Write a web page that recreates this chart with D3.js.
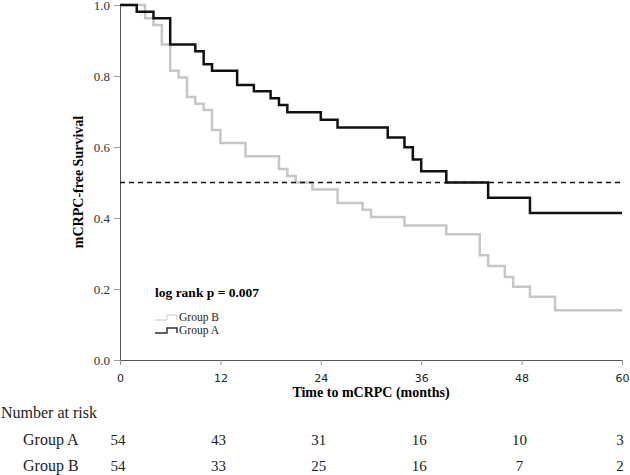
<!DOCTYPE html>
<html>
<head>
<meta charset="utf-8">
<script src="https://cdn.jsdelivr.net/npm/d3@7"></script>
<style>
  body { margin: 0; background: #fff; }
  svg { display: block; }
  .serif { font-family: "Liberation Serif", "Times New Roman", serif; }
</style>
</head>
<body>
<div id="chart"></div>
<script>
// 1: DATA
// Kaplan-Meier steps: time (months) and survival after the step
const groupATimes = [0, 2, 4, 6, 9, 10, 11, 14, 16, 18, 19, 20, 24, 26, 32, 34, 35, 36, 39, 44, 49, 60];
const groupASurv  = [1.0, 0.981, 0.963, 0.889, 0.870, 0.833, 0.815, 0.775, 0.757, 0.737, 0.718, 0.698, 0.677, 0.655, 0.627, 0.599, 0.565, 0.532, 0.500, 0.457, 0.414, 0.414];

const groupBTimes = [0, 3, 4, 5, 6, 7, 8, 9, 10, 11, 12, 15, 19, 20, 21, 23, 26, 29, 30, 34, 39, 43, 44, 46, 47, 49, 52, 60];
const groupBSurv  = [1.0, 0.963, 0.944, 0.889, 0.815, 0.796, 0.741, 0.722, 0.704, 0.648, 0.611, 0.574, 0.538, 0.518, 0.500, 0.480, 0.442, 0.423, 0.403, 0.379, 0.354, 0.295, 0.265, 0.234, 0.206, 0.178, 0.140, 0.140];

const xTicks = [0, 12, 24, 36, 48, 60];
const yTicks = [0, 0.2, 0.4, 0.6, 0.8, 1.0];
const riskA = [54, 43, 31, 16, 10, 3];
const riskB = [54, 33, 25, 16, 7, 2];
const medianLine = 0.5;

// 2: SIZES
const W = 630, H = 475;
const margin = { top: 5, right: 8, bottom: 115, left: 120 };
const width = W - margin.left - margin.right;
const height = H - margin.top - margin.bottom;

const svg = d3.select("#chart").append("svg")
    .attr("width", W)
    .attr("height", H);

const g = svg.append("g")
    .attr("transform", `translate(${margin.left},${margin.top})`);

// 3: SCALES
const x = d3.scaleLinear().domain([0, 60]).range([0, width]);
const y = d3.scaleLinear().domain([0, 1]).range([height, 0]);

// 4: AXES
const yAxis = g.append("g")
    .call(d3.axisLeft(y).tickValues(yTicks).tickFormat(d3.format(".1f")).tickSize(6).tickSizeOuter(0));
yAxis.select(".domain").attr("stroke", "#555");
yAxis.selectAll(".tick line").attr("stroke", "#999");
yAxis.selectAll(".tick text")
    .attr("class", "serif")
    .attr("font-size", 13)
    .attr("fill", "#333")
    .attr("x", -10);

const xAxis = g.append("g")
    .attr("transform", `translate(0,${height})`)
    .call(d3.axisBottom(x).tickValues(xTicks).tickSize(5).tickSizeOuter(0));
xAxis.select(".domain").attr("stroke", "#555");
xAxis.selectAll(".tick line").attr("stroke", "#999");
xAxis.selectAll(".tick text")
    .attr("font-family", "'DejaVu Sans', sans-serif")
    .attr("font-size", 11)
    .attr("fill", "#222")
    .attr("y", 14);

// 5: CURVES
const step = d3.line()
    .x(d => x(d[0]))
    .y(d => y(d[1]))
    .curve(d3.curveStepAfter);

g.append("path")
    .datum(d3.zip(groupBTimes, groupBSurv))
    .attr("d", step)
    .attr("fill", "none")
    .attr("stroke", "#c6c6c6")
    .attr("stroke-width", 2.5);

g.append("path")
    .datum(d3.zip(groupATimes, groupASurv))
    .attr("d", step)
    .attr("fill", "none")
    .attr("stroke", "#111")
    .attr("stroke-width", 2.5);

// median reference
g.append("line")
    .attr("x1", x(0)).attr("x2", x(60))
    .attr("y1", y(medianLine)).attr("y2", y(medianLine))
    .attr("stroke", "#111")
    .attr("stroke-width", 1.6)
    .attr("stroke-dasharray", "5,4");

// 6: LABELS
g.append("text")
    .attr("class", "serif")
    .attr("transform", "rotate(-90)")
    .attr("x", -177)
    .attr("y", -37)
    .attr("text-anchor", "middle")
    .attr("font-weight", "bold")
    .attr("font-size", 14)
    .text("mCRPC-free Survival");

svg.append("text")
    .attr("class", "serif")
    .attr("x", 371)
    .attr("y", 397)
    .attr("text-anchor", "middle")
    .attr("font-weight", "bold")
    .attr("font-size", 14)
    .text("Time to mCRPC (months)");

// legend
svg.append("text")
    .attr("class", "serif")
    .attr("x", 155)
    .attr("y", 297)
    .attr("font-weight", "bold")
    .attr("font-size", 13.5)
    .text("log rank p = 0.007");

const legend = [
    { name: "Group B", color: "#c6c6c6", w: 1, yy: 320 },
    { name: "Group A", color: "#333", w: 1.5, yy: 333 }
];
legend.forEach(l => {
    svg.append("path")
        .attr("d", `M155,${l.yy}H167V${l.yy - 5}H177V${l.yy}`)
        .attr("fill", "none")
        .attr("stroke", l.color)
        .attr("stroke-width", l.w);
    svg.append("text")
        .attr("class", "serif")
        .attr("x", 179)
        .attr("y", l.yy + 1)
        .attr("font-size", 11.5)
        .attr("fill", "#222")
        .text(l.name);
});

// 7: NUMBER AT RISK
svg.append("text")
    .attr("class", "serif")
    .attr("x", 1)
    .attr("y", 418)
    .attr("font-size", 16)
    .attr("fill", "#222")
    .text("Number at risk");

const riskRows = [
    { name: "Group A", vals: riskA, yy: 445 },
    { name: "Group B", vals: riskB, yy: 471 }
];
riskRows.forEach(r => {
    svg.append("text")
        .attr("class", "serif")
        .attr("x", 23)
        .attr("y", r.yy)
        .attr("font-size", 16)
        .attr("fill", "#222")
        .text(r.name);
    svg.selectAll(null)
        .data(r.vals)
        .enter().append("text")
        .attr("class", "serif")
        .attr("x", (d, i) => margin.left + x(xTicks[i]) - 2)
        .attr("y", r.yy)
        .attr("text-anchor", "middle")
        .attr("font-size", 15)
        .attr("fill", "#222")
        .text(d => d);
});
</script>
</body>
</html>
